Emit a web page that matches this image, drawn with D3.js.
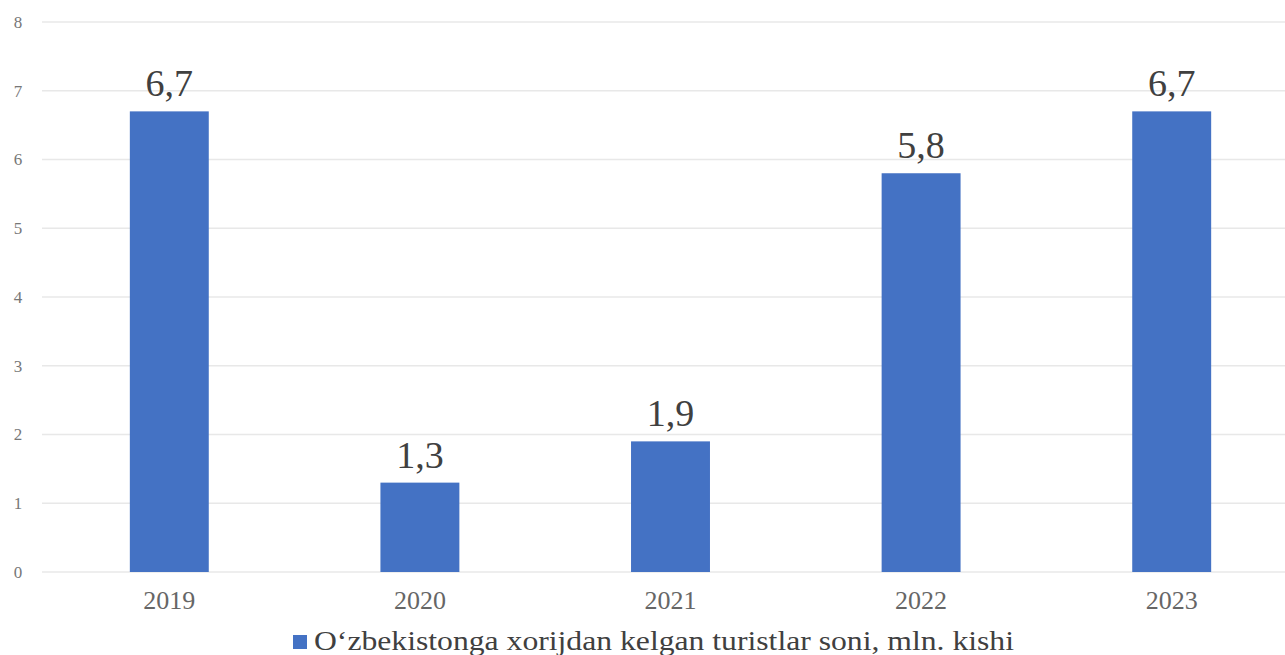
<!DOCTYPE html>
<html lang="uz">
<head>
  <meta charset="UTF-8">
  <title>Turistlar soni</title>
  <script src="https://d3js.org/d3.v7.min.js"></script>
  <style>
    body { margin: 0; background: #fff; }
  </style>
</head>
<body>
  <div id="chart"></div>
  <script>
    // Data
    const years = ["2019", "2020", "2021", "2022", "2023"];
    const tourists = [6.7, 1.3, 1.9, 5.8, 6.7];
    const yTicks = [0, 1, 2, 3, 4, 5, 6, 7, 8];
    const seriesName = "O‘zbekistonga xorijdan kelgan turistlar soni, mln. kishi";

    const FONT = "'Liberation Serif', 'Times New Roman', serif";
    const W = 1285, H = 655;
    const svg = d3.select("#chart").append("svg")
      .attr("width", W).attr("height", H);

    const x = d3.scaleBand()
      .domain(years)
      .range([44, 1297])
      .paddingInner(0.685)
      .paddingOuter(0.3425);

    const y = d3.scaleLinear()
      .domain([0, 8])
      .range([572, 22]);

    // gridlines
    svg.append("g")
      .selectAll("line")
      .data(yTicks)
      .join("line")
      .attr("x1", 42).attr("x2", W)
      .attr("y1", d => y(d)).attr("y2", d => y(d))
      .attr("stroke", "#e8e8e8").attr("stroke-width", 1.3);

    // y axis labels
    const yAxis = d3.axisLeft(y).tickValues(yTicks).tickSize(0).tickPadding(0);
    const yg = svg.append("g").attr("transform", "translate(18,0)").call(yAxis);
    yg.select(".domain").remove();
    yg.selectAll("text")
      .attr("text-anchor", "middle")
      .style("font-family", FONT).style("font-size", "17px")
      .attr("fill", "#777");

    // bars
    svg.append("g")
      .selectAll("rect")
      .data(tourists)
      .join("rect")
      .attr("x", (d, i) => x(years[i]))
      .attr("width", x.bandwidth())
      .attr("y", d => y(d))
      .attr("height", d => y(0) - y(d))
      .attr("fill", "#4472c4");

    // data labels
    svg.append("g")
      .selectAll("text")
      .data(tourists)
      .join("text")
      .attr("x", (d, i) => x(years[i]) + x.bandwidth() / 2)
      .attr("y", d => y(d) - 15)
      .attr("text-anchor", "middle")
      .style("font-family", FONT).style("font-size", "38px")
      .attr("fill", "#404040")
      .text(d => d.toString().replace(".", ","));

    // x axis labels
    const xAxis = d3.axisBottom(x).tickSize(0).tickPadding(0);
    const xg = svg.append("g").attr("transform", "translate(0,591)").call(xAxis);
    xg.select(".domain").remove();
    xg.selectAll("text")
      .style("font-family", FONT).style("font-size", "26px")
      .attr("fill", "#666");

    // legend
    const lg = svg.append("g").attr("transform", "translate(293,635)");
    lg.append("rect").attr("width", 14).attr("height", 14).attr("fill", "#4472c4");
    lg.append("text")
      .attr("x", 21).attr("y", 15)
      .attr("textLength", 700)
      .attr("lengthAdjust", "spacingAndGlyphs")
      .style("font-family", FONT).style("font-size", "28px")
      .attr("fill", "#404040")
      .text(seriesName);
  </script>
</body>
</html>
